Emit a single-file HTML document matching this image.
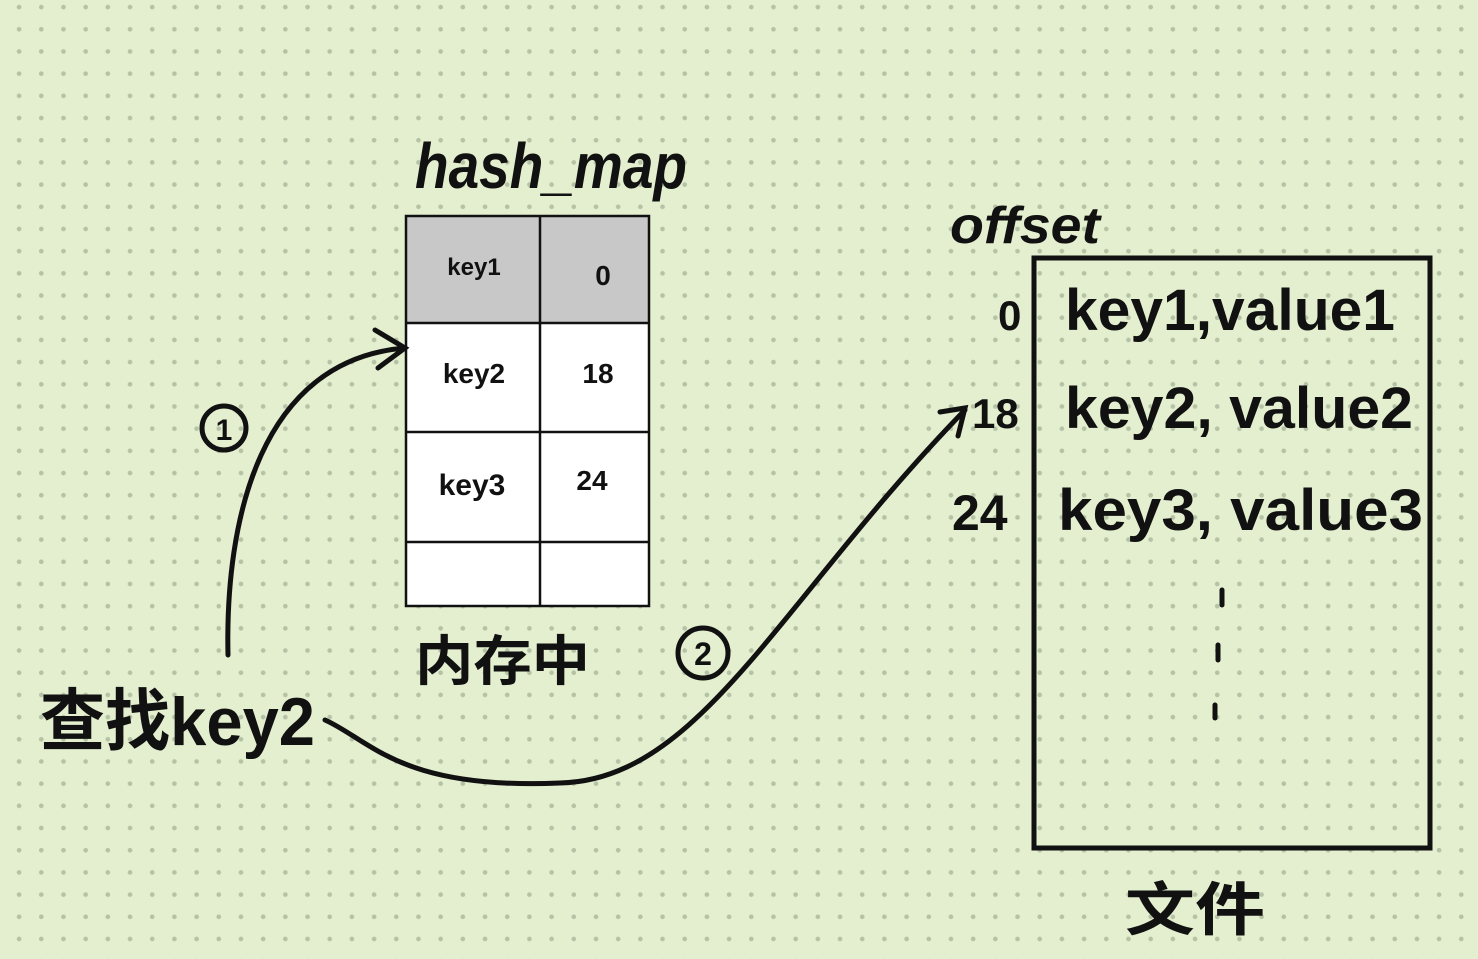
<!DOCTYPE html>
<html><head><meta charset="utf-8"><style>
html,body{margin:0;padding:0;}
body{width:1478px;height:959px;overflow:hidden;background:#e3efcf;
background-image:radial-gradient(circle,#b5c2a5 2px,transparent 2.6px);
background-size:22.2px 22.2px;background-position:8px -4px;}
svg{position:absolute;left:0;top:0;}
text{font-family:"Liberation Sans","Noto Sans CJK SC",sans-serif;fill:#111;font-weight:bold;}
</style></head><body>
<svg width="1478" height="959" viewBox="0 0 1478 959">
<rect x="406" y="216" width="134" height="107" fill="#c8c8c8"/>
<rect x="540" y="216" width="109" height="107" fill="#c8c8c8"/>
<rect x="406" y="323" width="243" height="283" fill="#fff"/>
<g stroke="#111" stroke-width="2.5" fill="none">
<rect x="406" y="216" width="243" height="390"/>
<line x1="540" y1="216" x2="540" y2="606"/>
<line x1="406" y1="323" x2="649" y2="323"/>
<line x1="406" y1="432" x2="649" y2="432"/>
<line x1="406" y1="542" x2="649" y2="542"/>
</g>
<g stroke="#111" stroke-width="5" fill="none" stroke-linecap="round">
<rect x="1034" y="258" width="396" height="590"/>
<path d="M228 655 C225 520 260 360 405 348"/>
<path d="M375 330 L405 348 L378 368"/>
<path d="M325 720 C370 740 400 790 560 783 C700 780 780 600 965 410"/>
<path d="M940 412 L965 408 L958 436"/>
<circle cx="224" cy="428" r="22"/>
<circle cx="703" cy="653" r="25"/>
<line x1="1222" y1="590" x2="1222" y2="605"/>
<line x1="1218" y1="645" x2="1218" y2="660"/>
<line x1="1215" y1="705" x2="1215" y2="718"/>
</g>
<text x="224" y="440" font-size="30" text-anchor="middle">1</text>
<text x="703" y="665" font-size="32" text-anchor="middle">2</text>
<text x="415" y="188" font-size="64" font-style="italic" textLength="272" lengthAdjust="spacingAndGlyphs">hash_map</text>
<text x="950" y="243" font-size="52" font-style="italic" textLength="150" lengthAdjust="spacingAndGlyphs">offset</text>
<text x="474" y="275" font-size="24" text-anchor="middle">key1</text>
<text x="603" y="285" font-size="28" text-anchor="middle">0</text>
<text x="474" y="383" font-size="28" text-anchor="middle">key2</text>
<text x="598" y="383" font-size="28" text-anchor="middle">18</text>
<text x="472" y="495" font-size="30" text-anchor="middle">key3</text>
<text x="592" y="490" font-size="28" text-anchor="middle">24</text>
<text x="415" y="680" font-size="54" textLength="175" lengthAdjust="spacingAndGlyphs">内存中</text>
<text x="40" y="745" font-size="68" textLength="275" lengthAdjust="spacingAndGlyphs">查找key2</text>
<text x="1125" y="930" font-size="58" textLength="140" lengthAdjust="spacingAndGlyphs">文件</text>
<text x="998" y="330" font-size="42">0</text>
<text x="972" y="428" font-size="42">18</text>
<text x="952" y="530" font-size="50">24</text>
<text x="1065" y="330" font-size="58" textLength="330" lengthAdjust="spacingAndGlyphs">key1,value1</text>
<text x="1065" y="428" font-size="58" textLength="348" lengthAdjust="spacingAndGlyphs">key2, value2</text>
<text x="1058" y="530" font-size="58" textLength="365" lengthAdjust="spacingAndGlyphs">key3, value3</text>
</svg>
</body></html>
